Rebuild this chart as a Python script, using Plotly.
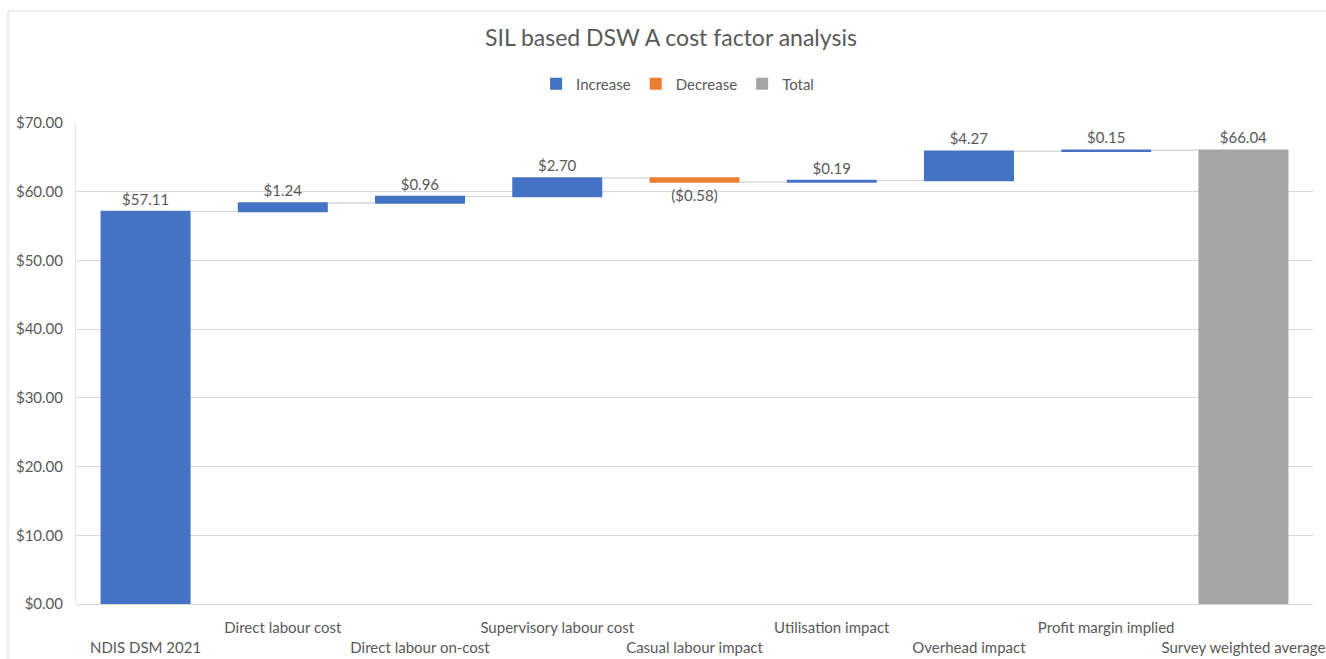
import plotly.graph_objects as go

categories = ["NDIS DSM 2021", "Direct labour cost", "Direct labour on-cost",
              "Supervisory labour cost", "Casual labour impact", "Utilisation impact",
              "Overhead impact", "Profit margin implied", "Survey weighted average"]
values = [57.11, 1.24, 0.96, 2.70, -0.58, 0.19, 4.27, 0.15, 66.04]
measures = ["relative", "relative", "relative", "relative", "relative",
            "relative", "relative", "relative", "total"]
y_ticks = [0, 10, 20, 30, 40, 50, 60, 70]

def fmt(v):
    return f"(${abs(v):.2f})" if v < 0 else f"${v:.2f}"

labels = [fmt(v) for v in values]
ticktext = [(c if i % 2 == 1 else "<br>" + c) for i, c in enumerate(categories)]

BLUE, ORANGE, GRAY = "#4472C4", "#ED7D31", "#A5A5A5"
TXT = "#595959"
FONT = "Lato"

W, H = 1326, 659
L, R, T, B = 76, 13, 123, 55

fig = go.Figure()
fig.add_trace(go.Waterfall(
    x=list(range(len(categories))), y=values, measure=measures,
    text=labels, textposition="outside", cliponaxis=False, constraintext="none",
    textfont=dict(size=15, color=TXT, family=FONT),
    increasing=dict(marker=dict(color=BLUE, line=dict(width=0))),
    decreasing=dict(marker=dict(color=ORANGE, line=dict(width=0))),
    totals=dict(marker=dict(color=GRAY, line=dict(width=0))),
    connector=dict(mode="between", line=dict(color="#D9D9D9", width=1.5)),
    showlegend=False, hoverinfo="x+y",
))
for name, col in [("Increase", BLUE), ("Decrease", ORANGE), ("Total", GRAY)]:
    fig.add_trace(go.Scatter(x=[None], y=[None], mode="markers", name=name,
                             marker=dict(symbol="square", size=12, color=col)))

ph = H - T - B
pw = W - L - R
fig.update_layout(
    template="none",
    width=W, height=H, autosize=False,
    margin=dict(l=L, r=R, t=T, b=B, autoexpand=False),
    paper_bgcolor="white", plot_bgcolor="white",
    font=dict(family=FONT, color=TXT, size=15),
    title=dict(text="SIL based DSW A cost factor analysis", x=0.506, xanchor="center",
               y=1 - 38 / H, yanchor="middle", yref="container",
               font=dict(size=23, color=TXT, family=FONT)),
    legend=dict(orientation="h", xref="container", x=0.511, xanchor="center",
                yref="container", y=1 - 84 / H, yanchor="middle",
                font=dict(size=15, color=TXT, family=FONT),
                itemwidth=30, tracegroupgap=0, bgcolor="rgba(0,0,0,0)"),
    waterfallgap=0.344,
    xaxis=dict(range=[-0.507, len(categories) - 1 + 0.507], automargin=False,
               tickmode="array", tickvals=list(range(len(categories))), ticktext=ticktext,
               tickangle=0, ticklabelstandoff=13,
               showgrid=False, zeroline=False, showline=False, ticks="",
               tickfont=dict(size=15, color=TXT, family=FONT)),
    yaxis=dict(range=[0, 70], automargin=False, tickmode="array", tickvals=y_ticks,
               ticktext=[f"${v:.2f}" for v in y_ticks],
               showgrid=True, gridcolor="#D9D9D9", gridwidth=1,
               zeroline=True, zerolinecolor="#D9D9D9", zerolinewidth=1,
               showline=True, linecolor="#E6E6E6", linewidth=1,
               ticks="", ticklabelstandoff=9,
               tickfont=dict(size=15, color=TXT, family=FONT)),
    shapes=[dict(type="rect", xref="paper", yref="paper",
                 x0=(8 - L) / pw, x1=1.2, y0=-0.5, y1=(ph + T - 11) / ph,
                 line=dict(color="#D9D9D9", width=1), fillcolor="rgba(0,0,0,0)",
                 layer="below")],
)

fig.write_html("out.html", config={"displayModeBar": False},
               post_script="document.body.style.margin='0';document.body.style.overflow='hidden';")
